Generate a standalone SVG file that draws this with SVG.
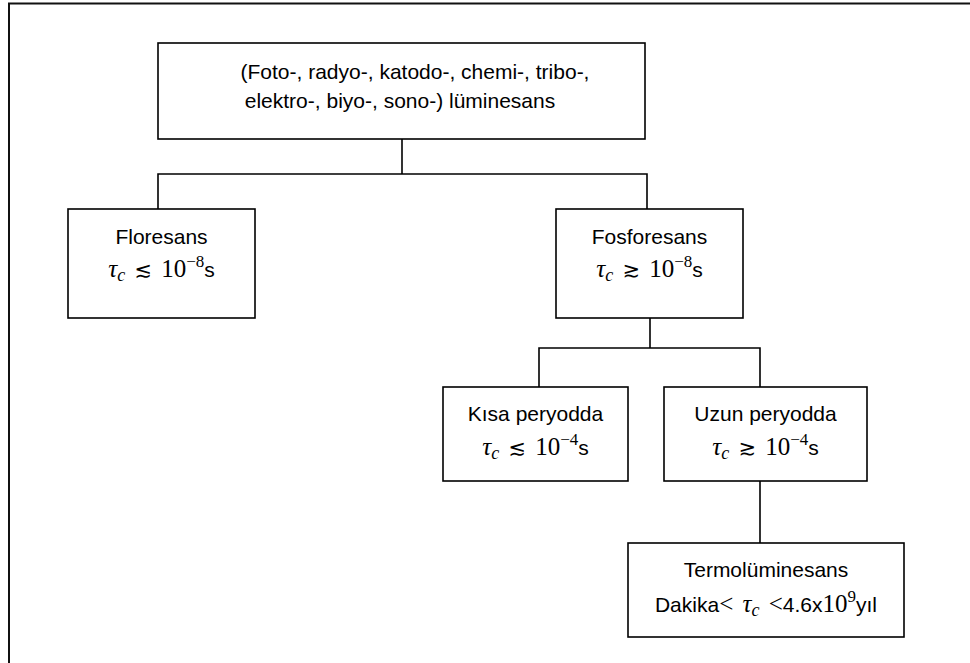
<svg xmlns="http://www.w3.org/2000/svg" width="970" height="663" viewBox="0 0 970 663">
<style>
.frame{stroke:#111;stroke-width:2;fill:none}
.box{fill:#fff;stroke:#000;stroke-width:1.6}
.conn{fill:none;stroke:#000;stroke-width:1.6}
.t{font-family:"Liberation Sans",Arial,sans-serif;font-size:21px;fill:#000;text-anchor:middle}
.m{font-family:"Liberation Serif","DejaVu Serif",serif;font-size:25px;fill:#000;text-anchor:middle;word-spacing:3px}
.i{font-style:italic}
.sub{font-size:18px;font-style:italic}
.sup{font-size:17px}
.s{font-family:"Liberation Sans",Arial,sans-serif;font-size:21px}
.op{font-family:"DejaVu Sans",sans-serif;font-size:21px;font-weight:normal}
</style>
<rect width="970" height="663" fill="#fff"/>
<path class="frame" d="M9 663 V3.5 H970"/>
<g id="connectors">
<path class="conn" d="M402 139 V174"/>
<path class="conn" d="M158 209 V174 H647 V209"/>
<path class="conn" d="M650 318 V348"/>
<path class="conn" d="M539 387 V348 H760 V387"/>
<path class="conn" d="M760 481 V543"/>
</g>
<g id="luminesans">
<rect class="box" x="158" y="43" width="487" height="96"/>
<text class="t" x="415" y="79">(Foto-, radyo-, katodo-, chemi-, tribo-,</text>
<text class="t" x="400" y="108">elektro-, biyo-, sono-) lüminesans</text>
</g>
<g id="floresans">
<rect class="box" x="68" y="209" width="187" height="109"/>
<text class="t" x="161.5" y="244">Floresans</text>
<text class="m" x="161.5" y="277"><tspan class="i">τ</tspan><tspan class="sub" dy="4">c</tspan><tspan dy="-4"> </tspan><tspan class="op">≲</tspan> 10<tspan class="sup" dy="-10">−8</tspan><tspan class="s" dy="10">s</tspan></text>
</g>
<g id="fosforesans">
<rect class="box" x="556" y="209" width="187" height="109"/>
<text class="t" x="649.5" y="244">Fosforesans</text>
<text class="m" x="649.5" y="277"><tspan class="i">τ</tspan><tspan class="sub" dy="4">c</tspan><tspan dy="-4"> </tspan><tspan class="op">≳</tspan> 10<tspan class="sup" dy="-10">−8</tspan><tspan class="s" dy="10">s</tspan></text>
</g>
<g id="kisa">
<rect class="box" x="443" y="387" width="185" height="94"/>
<text class="t" x="535.5" y="421">Kısa peryodda</text>
<text class="m" x="535.5" y="455"><tspan class="i">τ</tspan><tspan class="sub" dy="4">c</tspan><tspan dy="-4"> </tspan><tspan class="op">≲</tspan> 10<tspan class="sup" dy="-10">−4</tspan><tspan class="s" dy="10">s</tspan></text>
</g>
<g id="uzun">
<rect class="box" x="664" y="387" width="203" height="94"/>
<text class="t" x="765.5" y="421">Uzun peryodda</text>
<text class="m" x="765.5" y="455"><tspan class="i">τ</tspan><tspan class="sub" dy="4">c</tspan><tspan dy="-4"> </tspan><tspan class="op">≳</tspan> 10<tspan class="sup" dy="-10">−4</tspan><tspan class="s" dy="10">s</tspan></text>
</g>
<g id="termo">
<rect class="box" x="628" y="543" width="276" height="94"/>
<text class="t" x="766" y="577">Termolüminesans</text>
<text class="m" x="766" y="612"><tspan class="s">Dakika</tspan>&lt; <tspan class="i">τ</tspan><tspan class="sub" dy="4">c</tspan><tspan dy="-4"> &lt;</tspan><tspan class="s">4.6x</tspan>10<tspan class="sup" dy="-10">9</tspan><tspan class="s" dy="10">yıl</tspan></text>
</g>
</svg>
